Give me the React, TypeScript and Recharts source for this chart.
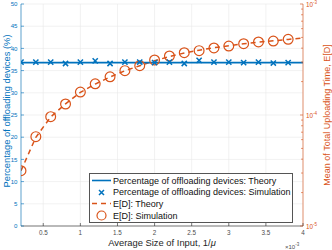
import { ComposedChart, Line, XAxis, YAxis, CartesianGrid, Legend } from 'recharts';

const BLUE = '#0072BD';
const ORANGE = '#D95319';
const FONT = '"Liberation Sans", Arial, sans-serif';

// average input size (x 10^-3)
const inputSize = [0.2, 0.4, 0.6, 0.8, 1.0, 1.2, 1.4, 1.6, 1.8, 2.0, 2.2, 2.4, 2.6, 2.8, 3.0, 3.2, 3.4, 3.6, 3.8, 4.0];
const pctTheory = [36.8, 36.8, 36.8, 36.8, 36.8, 36.8, 36.8, 36.8, 36.8, 36.8, 36.8, 36.8, 36.8, 36.8, 36.8, 36.8, 36.8, 36.8, 36.8, 36.8];
const pctSim = [36.9, 36.9, 36.9, 36.6, 36.9, 37.2, 36.6, 36.9, 36.9, 36.8, 36.9, 36.6, 37.3, 36.9, 36.9, 36.8, 36.9, 36.7, 36.8];
const delayTheory = [3.15e-5, 6.3e-5, 9.6e-5, 1.26e-4, 1.6e-4, 1.9e-4, 2.2e-4, 2.5e-4, 2.78e-4, 3.08e-4, 3.36e-4, 3.62e-4, 3.84e-4, 4.04e-4, 4.2e-4, 4.38e-4, 4.53e-4, 4.66e-4, 4.8e-4, 4.93e-4];
const delaySim = [3.15e-5, 6.38e-5, 9.66e-5, 1.256e-4, 1.61e-4, 1.91e-4, 2.21e-4, 2.51e-4, 2.78e-4, 3.13e-4, 3.4e-4, 3.64e-4, 3.8e-4, 4.02e-4, 4.18e-4, 4.39e-4, 4.55e-4, 4.64e-4, 4.81e-4];

const xTicks = [0.5, 1, 1.5, 2, 2.5, 3, 3.5, 4];
const leftTicks = [0, 5, 10, 15, 20, 25, 30, 35, 40, 45, 50];
const rightTicks = [
  1e-5, 2e-5, 3e-5, 4e-5, 5e-5, 6e-5, 7e-5, 8e-5, 9e-5,
  1e-4, 2e-4, 3e-4, 4e-4, 5e-4, 6e-4, 7e-4, 8e-4, 9e-4,
  1e-3,
];

const data = inputSize.map((x, i) => ({
  x,
  pctTheory: pctTheory[i],
  pctSim: pctSim[i] ?? null,
  delayTheory: delayTheory[i],
  delaySim: delaySim[i] ?? null,
}));

const BottomTick = (props: any) => {
  const { x, y, payload } = props;
  return (
    <g>
      <line x1={x} x2={x} y1={y} y2={y - 3} stroke="#262626" strokeWidth={0.6} />
      <text x={x} y={y + 8.5} textAnchor="middle" fontSize={6.3} fill="#4d4d4d" fontFamily={FONT}>
        {payload.value}
      </text>
    </g>
  );
};

const TopTick = (props: any) => {
  const { x, y } = props;
  return <line x1={x} x2={x} y1={y} y2={y + 3} stroke="#262626" strokeWidth={0.6} />;
};

const LeftTick = (props: any) => {
  const { x, y, payload } = props;
  return (
    <g>
      <line x1={x} x2={x + 3} y1={y} y2={y} stroke={BLUE} strokeWidth={0.6} />
      <text x={x - 3.5} y={y + 2.2} textAnchor="end" fontSize={6.1} fill={BLUE} fontFamily={FONT}>
        {payload.value}
      </text>
    </g>
  );
};

const RightTick = (props: any) => {
  const { x, y, payload } = props;
  const e = Math.log10(payload.value);
  const major = Math.abs(e - Math.round(e)) < 1e-6;
  return (
    <g>
      <line x1={x} x2={x - (major ? 3 : 2)} y1={y} y2={y} stroke={ORANGE} strokeWidth={0.6} />
      {major && (
        <text x={x + 3} y={y + 2.5} fontSize={6.3} fill={ORANGE} fontFamily={FONT}>
          10
          <tspan dy={-3} fontSize={4.5}>{Math.round(e)}</tspan>
        </text>
      )}
    </g>
  );
};

const Cross = (props: any) => {
  const { cx, cy, value, index } = props;
  if (value == null || cx == null || cy == null) return <g key={`c${index}`} />;
  const s = 2.6;
  return (
    <path
      key={`c${index}`}
      d={`M${cx - s},${cy - s}L${cx + s},${cy + s}M${cx - s},${cy + s}L${cx + s},${cy - s}`}
      stroke={BLUE}
      strokeWidth={1.5}
      fill="none"
    />
  );
};

const Ring = (props: any) => {
  const { cx, cy, value, index } = props;
  if (value == null || cx == null || cy == null) return <g key={`r${index}`} />;
  return <circle key={`r${index}`} cx={cx} cy={cy} r={4.9} stroke={ORANGE} strokeWidth={1.2} fill="none" />;
};

const LeftTitle = (props: any) => {
  const { viewBox } = props;
  const cx = viewBox.x + 6;
  const cy = viewBox.y + viewBox.height / 2 - 4;
  return (
    <text x={cx} y={cy} transform={`rotate(-90 ${cx} ${cy})`} textAnchor="middle" dominantBaseline="central"
      fontSize={9.4} fill={BLUE} fontFamily={FONT}>
      Percentage of offloading devices (%)
    </text>
  );
};

const RightTitle = (props: any) => {
  const { viewBox } = props;
  const cx = viewBox.x + 23.5;
  const cy = viewBox.y + viewBox.height / 2;
  return (
    <text x={cx} y={cy} transform={`rotate(-90 ${cx} ${cy})`} textAnchor="middle" dominantBaseline="central"
      fontSize={9} fill={ORANGE} fontFamily={FONT}>
      Mean of Total Uploading Time, E[D]
    </text>
  );
};

const BottomTitle = (props: any) => {
  const { viewBox } = props;
  const cx = viewBox.x + viewBox.width / 2;
  return (
    <g>
      <text x={cx} y={viewBox.y + 19.5} textAnchor="middle" fontSize={9.4} fill="#262626" fontFamily={FONT}>
        Average Size of Input, 1/<tspan fontStyle="italic">μ</tspan>
      </text>
      <text x={viewBox.x + viewBox.width - 18} y={viewBox.y + 22.5} fontSize={6} fill="#4d4d4d" fontFamily={FONT}>
        ×10<tspan dy={-3} fontSize={4.5}>-3</tspan>
      </text>
    </g>
  );
};

const legendRows = [
  { label: 'Percentage of offloading devices: Theory', icon: 'line' },
  { label: 'Percentage of offloading devices: Simulation', icon: 'cross' },
  { label: 'E[D]: Theory', icon: 'dash' },
  { label: 'E[D]: Simulation', icon: 'ring' },
];

const LegendBox = () => (
  <div
    style={{
      width: 204,
      boxSizing: 'border-box',
      border: '1px solid #555',
      background: '#fff',
      padding: '1px 0',
      fontFamily: FONT,
      fontSize: 9,
      color: '#111',
    }}
  >
    {legendRows.map((r) => (
      <div key={r.label} style={{ display: 'flex', alignItems: 'center', height: 11.6, whiteSpace: 'nowrap' }}>
        <svg width={23} height={11} style={{ flex: 'none' }}>
          {r.icon === 'line' && <line x1={2} x2={21} y1={5.5} y2={5.5} stroke={BLUE} strokeWidth={1.6} />}
          {r.icon === 'cross' && (
            <path d="M9,3L14,8M9,8L14,3" stroke={BLUE} strokeWidth={1.5} fill="none" />
          )}
          {r.icon === 'dash' && (
            <line x1={2} x2={21} y1={5.5} y2={5.5} stroke={ORANGE} strokeWidth={1.5} strokeDasharray="5 4" />
          )}
          {r.icon === 'ring' && <circle cx={11.5} cy={5.5} r={4.5} stroke={ORANGE} strokeWidth={1.2} fill="none" />}
        </svg>
        <span>{r.label}</span>
      </div>
    ))}
  </div>
);

export default function App() {
  return (
    <div style={{ position: 'absolute', left: 0, top: 0, width: 332, height: 250, background: '#fff' }}>
      <ComposedChart width={332} height={250} data={data} margin={{ top: 4, right: 0, bottom: 0, left: 0 }}>
        <CartesianGrid yAxisId="left" stroke="#e8e8e8" strokeWidth={0.6} />
        <XAxis
          dataKey="x"
          type="number"
          domain={[0.2, 4]}
          ticks={xTicks}
          allowDataOverflow
          height={24}
          tickSize={0}
          tickMargin={0}
          tickLine={false}
          axisLine={{ stroke: '#262626', strokeWidth: 0.6 }}
          tick={<BottomTick />}
          interval={0}
          label={<BottomTitle />}
        />
        <XAxis
          xAxisId="top"
          orientation="top"
          dataKey="x"
          type="number"
          domain={[0.2, 4]}
          ticks={xTicks}
          allowDataOverflow
          height={0}
          tickSize={0}
          tickMargin={0}
          tickLine={false}
          axisLine={{ stroke: '#262626', strokeWidth: 0.6 }}
          tick={<TopTick />}
          interval={0}
        />
        <YAxis
          yAxisId="left"
          type="number"
          domain={[0, 50]}
          ticks={leftTicks}
          width={21}
          tickSize={0}
          tickMargin={0}
          tickLine={false}
          axisLine={{ stroke: BLUE, strokeWidth: 0.6 }}
          tick={<LeftTick />}
          interval={0}
          label={<LeftTitle />}
        />
        <YAxis
          yAxisId="right"
          orientation="right"
          scale="log"
          type="number"
          domain={[1e-5, 1e-3]}
          ticks={rightTicks}
          allowDataOverflow
          width={29}
          tickSize={0}
          tickMargin={0}
          tickLine={false}
          axisLine={{ stroke: ORANGE, strokeWidth: 0.6 }}
          tick={<RightTick />}
          interval={0}
          label={<RightTitle />}
        />
        <Line
          yAxisId="right"
          dataKey="delayTheory"
          type="linear"
          stroke={ORANGE}
          strokeWidth={1.5}
          strokeDasharray="5 4"
          dot={false}
          isAnimationActive={false}
        />
        <Line
          yAxisId="right"
          dataKey="delaySim"
          stroke="none"
          dot={<Ring />}
          activeDot={false}
          isAnimationActive={false}
        />
        <Line
          yAxisId="left"
          dataKey="pctTheory"
          type="linear"
          stroke={BLUE}
          strokeWidth={1.6}
          dot={false}
          isAnimationActive={false}
        />
        <Line
          yAxisId="left"
          dataKey="pctSim"
          stroke="none"
          dot={<Cross />}
          activeDot={false}
          isAnimationActive={false}
        />
        <Legend
          layout="vertical"
          align="center"
          verticalAlign="middle"
          wrapperStyle={{ left: 89, top: 173, width: 204 }}
          content={() => <LegendBox />}
        />
      </ComposedChart>
    </div>
  );
}
